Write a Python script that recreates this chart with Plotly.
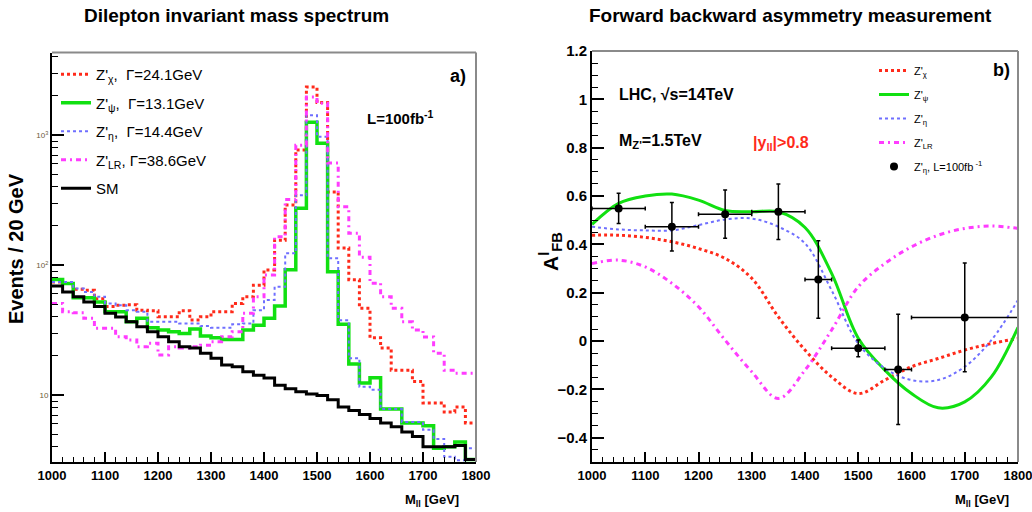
import plotly.graph_objects as go

W, H = 1032, 512

# ---------------- data: left panel (20 GeV bins, 1000-1800 GeV) ----------------
bin_edges = list(range(1000, 1801, 20))
z_chi = [74, 72, 65, 64, 55, 48, 49, 49.5, 45, 44.5, 40, 40, 44.5, 37.8, 40, 43.8, 43.8, 50.7, 57, 70,
         91.8, 155, 290, 767, 2340, 1780, 365, 135, 77, 46.5, 27.6, 23, 15.5, 15.5, 12.7, 8.7, 8.7, 7.4, 8.1, 6.1]
z_psi = [77.5, 72, 56, 56, 52, 43.8, 43.8, 36.6, 38.9, 33, 31.6, 30.7, 29.8, 32.2, 28.5, 27.6, 26.8, 26.8, 31.6, 34.5,
         38.9, 48.4, 92, 273, 1256, 863, 89, 35, 17.3, 12.4, 13.6, 7.8, 7.8, 6.1, 6.1, 5.8, 3.9, 4.0, 4.36, 3.2]
z_eta = [74, 74, 66, 62, 57, 50.7, 49, 45, 43.8, 36.6, 36.6, 36.6, 35.5, 35.5, 33.9, 33, 33, 35, 35.5, 45,
         53.8, 68, 123, 345, 1420, 970, 113, 37.7, 19.2, 11.6, 11, 7.8, 7.8, 6.2, 6.2, 5.4, 4.6, 3.35, 3.15, 3.9]
z_lr = [50.7, 43.8, 43, 38.9, 32.6, 32.6, 28.1, 26.5, 23.5, 25, 20.3, 23.5, 23, 23.5, 24.2, 25.7, 28.1, 30.7, 42.6, 57,
        83.7, 165, 320, 834, 1960, 1760, 610, 281, 176, 115, 72.5, 57, 46.6, 36.6, 31.6, 28, 21, 15.5, 14.7, 14.7]
sm = [69, 62, 57, 52, 48, 42.6, 39.8, 36.6, 33.5, 30.7, 28.1, 25.7, 23.5, 23, 21, 19.2, 17, 16.5, 15.1, 14.2,
      13.5, 11.9, 11.2, 10.6, 10.2, 9.9, 9.2, 8.1, 7.6, 7.1, 6.6, 6.1, 5.7, 5.2, 4.8, 4.0, 4.0, 4.0, 4.1, 3.2]

# ---------------- data: right panel ----------------
m_curve = [1000, 1050, 1100, 1150, 1200, 1250, 1300, 1350, 1400, 1450, 1500, 1550, 1600, 1650, 1700, 1750, 1800]
afb_chi = [0.438, 0.438, 0.429, 0.411, 0.383, 0.342, 0.26, 0.1, -0.037, -0.148, -0.217, -0.161, -0.106, -0.072, -0.037, -0.01, 0.011]
afb_psi = [0.483, 0.57, 0.60, 0.608, 0.583, 0.54, 0.535, 0.535, 0.47, 0.28, 0.012, -0.12, -0.217, -0.276, -0.251, -0.148, 0.057]
afb_eta = [0.473, 0.462, 0.458, 0.458, 0.48, 0.503, 0.507, 0.473, 0.404, 0.21, -0.01, -0.113, -0.161, -0.161, -0.106, 0.004, 0.17]
afb_lr = [0.321, 0.335, 0.307, 0.239, 0.142, 0.004, -0.127, -0.237, -0.12, 0.046, 0.225, 0.321, 0.39, 0.438, 0.466, 0.476, 0.466]

m_data = [1050, 1150, 1250, 1350, 1425, 1500, 1575, 1700]
m_err = [50, 50, 50, 50, 25, 50, 25, 100]
afb_data = [0.549, 0.473, 0.525, 0.535, 0.255, -0.03, -0.117, 0.098]
afb_err = [0.063, 0.1, 0.1, 0.115, 0.16, 0.035, 0.228, 0.225]

RED = "#ff2a1a"
GREEN = "#11e011"
BLUE = "#6f6fff"
MAG = "#ff3cff"
FONT = "Liberation Sans, Arial, sans-serif"
MAGDASH = "5px,4px,2px,4px"


def px(x):
    return x / W


def py(y):
    return 1 - y / H


fig = go.Figure()


def hist_y(vals):
    return list(vals) + [vals[-1]]


left_series = [
    (z_chi, "Z'<sub>χ</sub>,  Γ=24.1GeV", dict(color=RED, width=3, dash="dot")),
    (z_psi, "Z'<sub>ψ</sub>,  Γ=13.1GeV", dict(color=GREEN, width=3.5)),
    (z_eta, "Z'<sub>η</sub>,  Γ=14.4GeV", dict(color=BLUE, width=2, dash="dot")),
    (z_lr, "Z'<sub>LR</sub>, Γ=38.6GeV", dict(color=MAG, width=3, dash=MAGDASH)),
    (sm, "SM", dict(color="black", width=3)),
]
for i, (vals, name, line) in enumerate(left_series):
    fig.add_trace(go.Scatter(x=bin_edges, y=hist_y(vals), mode="lines", line_shape="hv",
                             line=line, name=name, xaxis="x", yaxis="y", legend="legend",
                             legendgroup=f"L{i}"))

right_series = [
    (afb_chi, "Z'<sub>χ</sub>", dict(color=RED, width=3, dash="dot")),
    (afb_psi, "Z'<sub>ψ</sub>", dict(color=GREEN, width=3)),
    (afb_eta, "Z'<sub>η</sub>", dict(color=BLUE, width=2, dash="dot")),
    (afb_lr, "Z'<sub>LR</sub>", dict(color=MAG, width=3, dash=MAGDASH)),
]
for i, (vals, name, line) in enumerate(right_series):
    fig.add_trace(go.Scatter(x=m_curve, y=vals, mode="lines", line_shape="spline",
                             line=line, name=name, xaxis="x2", yaxis="y2", legend="legend2",
                             legendgroup=f"R{i}"))

fig.add_trace(go.Scatter(
    x=m_data, y=afb_data, mode="markers", name="Z'<sub>η</sub>, L=100fb<sup> -1</sup>",
    marker=dict(color="black", size=8),
    error_y=dict(type="data", array=afb_err, color="black", thickness=1.5, width=2),
    error_x=dict(type="data", array=m_err, color="black", thickness=1.5, width=2),
    xaxis="x2", yaxis="y2", legend="legend2", legendgroup="R9"))

# ---------------- axes ----------------
lx = [px(52), px(476)]
rx = [px(592), px(1018)]
ly = [py(462), py(52.5)]
ry = [py(462), py(51)]

common_x = dict(range=[1000, 1800], dtick=100, tick0=1000, ticks="inside", ticklen=10, tickwidth=1.5,
                tickcolor="black", showline=True, linecolor="black", linewidth=2, showgrid=False,
                zeroline=False, automargin=False, ticklabeloverflow="allow",
                tickfont=dict(family=FONT, size=13, color="black", weight="bold"),
                minor=dict(dtick=20, tick0=1000, ticks="inside", ticklen=5, tickcolor="black", tickwidth=1.2))

log_minor = [v * m for m in (1, 10, 100, 1000) for v in range(2, 10)]
log_minor = [v for v in log_minor if 3 <= v <= 4400]

fig.update_layout(
    width=W, height=H,
    margin=dict(l=0, r=0, t=0, b=0, autoexpand=False),
    paper_bgcolor="white", plot_bgcolor="white",
    font=dict(family=FONT, color="black"),
    showlegend=True,
    xaxis=dict(domain=lx, anchor="y", **common_x),
    yaxis=dict(domain=ly, anchor="x", type="log", range=[0.485, 3.635], automargin=False,
               tickmode="array", tickvals=[10, 100, 1000],
               ticktext=["10", "10<sup>2</sup>", "10<sup>3</sup>"],
               ticks="inside", ticklen=12, tickwidth=1.5, tickcolor="black",
               showline=True, linecolor="black", linewidth=2, showgrid=False, zeroline=False,
               tickfont=dict(family=FONT, size=8, color="#6b5a3a"),
               minor=dict(tickmode="array", tickvals=log_minor, ticks="inside", ticklen=6,
                          tickcolor="black", tickwidth=1.2)),
    xaxis2=dict(domain=rx, anchor="y2", **common_x),
    yaxis2=dict(domain=ry, anchor="x2", range=[-0.5, 1.2], dtick=0.2, tick0=0, automargin=False,
                ticks="inside", ticklen=12, tickwidth=1.5, tickcolor="black",
                showline=True, linecolor="black", linewidth=2, showgrid=False, zeroline=False,
                tickfont=dict(family=FONT, size=15, color="black", weight="bold"),
                minor=dict(dtick=0.05, tick0=0, ticks="inside", ticklen=6, tickcolor="black", tickwidth=1.2)),
    legend=dict(x=px(56), y=py(58), xanchor="left", yanchor="top", bgcolor="rgba(0,0,0,0)",
                font=dict(family=FONT, size=15, color="black"), tracegroupgap=6, itemwidth=30),
    legend2=dict(x=px(874), y=py(56), xanchor="left", yanchor="top", bgcolor="rgba(0,0,0,0)",
                 font=dict(family=FONT, size=11, color="black"), tracegroupgap=5, itemwidth=30),
)

# grey top/right frame lines
for xr, yr in (("x domain", "y domain"), ("x2 domain", "y2 domain")):
    fig.add_shape(type="line", xref=xr, yref=yr, x0=0, x1=1, y0=1, y1=1,
                  line=dict(color="#8a8a8a", width=2))
    fig.add_shape(type="line", xref=xr, yref=yr, x0=1, x1=1, y0=0, y1=1,
                  line=dict(color="#8a8a8a", width=2))


def note(text, x, y, size, color="black", bold=True, angle=0, xanchor="center"):
    fig.add_annotation(text=text, x=px(x), y=py(y), xref="paper", yref="paper",
                       showarrow=False, textangle=angle, xanchor=xanchor, yanchor="middle",
                       font=dict(family=FONT, size=size, color=color, weight="bold" if bold else "normal"))


note("Dilepton invariant mass spectrum", 236, 15, 19)
note("Forward backward asymmetry measurement", 790, 15, 19)
note("Events / 20 GeV", 16, 249, 20, angle=-90)
note("A<sup>l</sup><sub>FB</sub>", 550, 252, 21, angle=-90)
note("M<sub>ll</sub> [GeV]", 432, 500, 13)
note("M<sub>ll</sub> [GeV]", 982, 500, 13)
note("a)", 458, 76, 18)
note("b)", 1001, 70, 18)
note("L=100fb<sup>-1</sup>", 400, 117, 15)
note("LHC, √s=14TeV", 617, 94, 16, xanchor="left")
note("M<sub>Z'</sub>=1.5TeV", 617, 141, 16, xanchor="left")
note("|y<sub>ll</sub>|>0.8", 781, 143, 16, color=RED)

fig.write_html("out.html", config={"displayModeBar": False},
               post_script="document.body.style.margin='0px';document.body.style.overflow='hidden';")
